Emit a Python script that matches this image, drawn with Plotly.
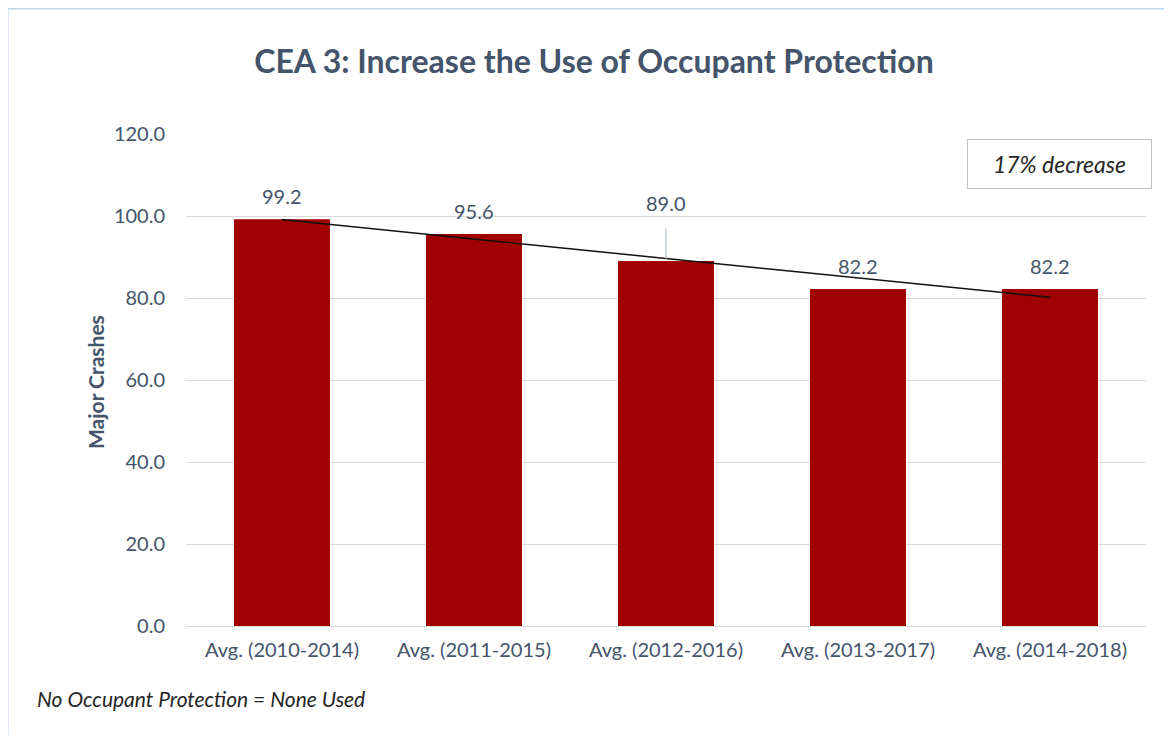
import numpy as np
import plotly.graph_objects as go

categories = ["Avg. (2010-2014)", "Avg. (2011-2015)", "Avg. (2012-2016)",
              "Avg. (2013-2017)", "Avg. (2014-2018)"]
values = [99.2, 95.6, 89.0, 82.2, 82.2]
y_ticks = [0, 20, 40, 60, 80, 100, 120]
y_tick_labels = ["0.0", "20.0", "40.0", "60.0", "80.0", "100.0", "120.0"]

OFF = 8  # page body margin
W, H = 1172 - 2 * OFF, 743 - 2 * OFF
PL, PR, PT, PB = 186, 1146, 134, 626  # plot area in screenshot pixels
L, R, T, B = PL - OFF, W - (PR - OFF), PT - OFF, H - (PB - OFF)
FONT = "Lato, 'Open Sans', sans-serif"
TXT = "#44546A"

def px(x):
    return (x - PL) / (PR - PL)

def py(y):
    return (PB - y) / (PB - PT)

# linear trendline derived from the bar values
idx = np.arange(1, len(values) + 1)
slope, intercept = np.polyfit(idx, values, 1)
trend = slope * idx + intercept

fig = go.Figure()
fig.add_trace(go.Bar(x=categories, y=values, marker_color="#A00000",
                     marker_line_width=0, width=0.5, hoverinfo="skip"))
fig.add_trace(go.Scatter(x=[categories[0], categories[-1]], y=[trend[0], trend[-1]],
                         mode="lines", line=dict(color="#111111", width=1.5),
                         hoverinfo="skip"))

anns = []
for c, v in zip(categories, values):
    if abs(v - 89.0) < 1e-9:
        anns.append(dict(x=c, y=v, xref="x", yref="y", text=f"{v:.1f}",
                         showarrow=True, ax=0, ay=-58, arrowhead=0,
                         arrowwidth=1, arrowcolor="#A6B4C8", standoff=2,
                         startstandoff=12,
                         font=dict(family=FONT, size=20, color=TXT)))
    else:
        anns.append(dict(x=c, y=v, xref="x", yref="y", text=f"{v:.1f}",
                         showarrow=False, yanchor="middle", yshift=23,
                         font=dict(family=FONT, size=20, color=TXT)))

anns.append(dict(x=px(1059.5), y=py(164), xref="paper", yref="paper",
                 xanchor="center", yanchor="middle",
                 text="<i>17% decrease</i>", showarrow=False,
                 width=181, height=46, bordercolor="#BFBFBF", borderwidth=1,
                 bgcolor="white", align="center",
                 font=dict(family=FONT, size=23, color="#262626")))
anns.append(dict(x=px(35), y=py(698), xref="paper", yref="paper",
                 xanchor="left", yanchor="middle",
                 text="<i>No Occupant Protection = None Used</i>", showarrow=False,
                 font=dict(family=FONT, size=21, color="#262626")))
anns.append(dict(x=px(95), y=py(382), xref="paper", yref="paper",
                 xanchor="center", yanchor="middle",
                 text="<b>Major Crashes</b>", textangle=-90, showarrow=False,
                 font=dict(family=FONT, size=21, color=TXT)))

shapes = [
    dict(type="line", xref="paper", yref="paper", x0=px(7), x1=px(1190),
         y0=py(8.5), y1=py(8.5), line=dict(color="#BDD7EE", width=2)),
    dict(type="line", xref="paper", yref="paper", x0=px(7.5), x1=px(7.5),
         y0=py(8), y1=py(770), line=dict(color="#BDD7EE", width=2)),
]

fig.update_layout(
    width=W, height=H,
    margin=dict(l=L, r=R, t=T, b=B),
    paper_bgcolor="white", plot_bgcolor="white",
    showlegend=False,
    title=dict(text="<b>CEA 3: Increase the Use of Occupant Protection</b>",
               x=px(594), xref="paper", xanchor="center",
               y=1 - (62 - OFF) / H, yref="container", yanchor="middle",
               font=dict(family=FONT, size=32, color=TXT)),
    annotations=anns,
    shapes=shapes,
    bargap=0.5,
)
fig.update_xaxes(showgrid=False, showline=False, ticks="",
                 tickfont=dict(family=FONT, size=20, color=TXT),
                 ticklabelstandoff=10)
fig.update_yaxes(range=[0, 120], tickvals=y_ticks, ticktext=y_tick_labels,
                 showgrid=True, gridcolor="#D9D9D9", gridwidth=1,
                 zeroline=True, zerolinecolor="#D9D9D9", zerolinewidth=1,
                 showline=False, ticks="",
                 tickfont=dict(family=FONT, size=20, color=TXT),
                 ticklabelstandoff=20)

fig.write_html("out.html")
